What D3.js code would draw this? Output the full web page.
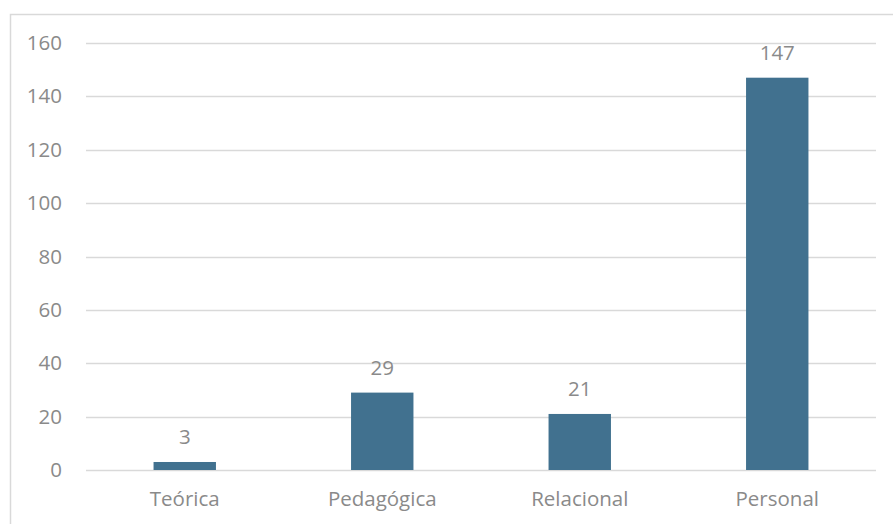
<!DOCTYPE html>
<html><head><meta charset="utf-8">
<script src="https://cdn.jsdelivr.net/npm/d3@7"></script>
<style>html,body{margin:0;padding:0;background:#fff;}svg{display:block;}</style>
</head><body>
<script>
const categories = ["Teórica", "Pedagógica", "Relacional", "Personal"];
const values = [3, 29, 21, 147];
const yTicks = [0, 20, 40, 60, 80, 100, 120, 140, 160];

(function () {
const W = 893, H = 524;
const svg = d3.select("body").append("svg").attr("width", W).attr("height", H);
const font = "'Open Sans', sans-serif";
const textColor = "#8a8a8a";
const fs = "20.5px";
const fw = 400;

// chart border
svg.append("rect").attr("x", 10.5).attr("y", 14.5).attr("width", 900).attr("height", 530)
  .attr("fill", "none").attr("stroke", "#d9d9d9").attr("stroke-width", 1.5);

const mLeft = 86, mRight = 876, mTop = 43, mBottom = 470;
const x = d3.scaleBand().domain(categories).range([mLeft, mRight]).padding(0);
const y = d3.scaleLinear().domain([0, 160]).range([mBottom, mTop]);

// gridlines
svg.append("g").selectAll("line").data(yTicks).join("line")
  .attr("x1", mLeft).attr("x2", mRight)
  .attr("y1", d => Math.round(y(d)) + 0.5).attr("y2", d => Math.round(y(d)) + 0.5)
  .attr("stroke", "#d9d9d9").attr("stroke-width", 1.5);

// y axis labels
const yAxis = d3.axisLeft(y).tickValues(yTicks).tickSize(0).tickPadding(0);
const ya = svg.append("g").attr("transform", `translate(${mLeft - 24},0)`).call(yAxis);
ya.select(".domain").remove();
ya.selectAll("text").attr("fill", textColor).style("font-family", font).style("font-size", fs).style("font-weight", fw);

// x axis labels
const xAxis = d3.axisBottom(x).tickSize(0).tickPadding(0);
const xa = svg.append("g").attr("transform", `translate(0,${mBottom + 21})`).call(xAxis);
xa.select(".domain").remove();
xa.selectAll("text").attr("fill", textColor).style("font-family", font).style("font-size", fs).style("font-weight", fw);

// bars
const bw = x.bandwidth() * 0.316;
svg.append("g").selectAll("rect").data(values).join("rect")
  .attr("x", (d, i) => x(categories[i]) + x.bandwidth() / 2 - bw / 2)
  .attr("width", bw)
  .attr("y", d => y(d))
  .attr("height", d => y(0) - y(d))
  .attr("fill", "#41718f");

// value labels
svg.append("g").selectAll("text").data(values).join("text")
  .attr("x", (d, i) => x(categories[i]) + x.bandwidth() / 2)
  .attr("y", d => y(d) - 18)
  .attr("text-anchor", "middle")
  .attr("fill", textColor).style("font-family", font).style("font-size", fs).style("font-weight", fw)
  .text(d => d);
})();
</script>
</body></html>
